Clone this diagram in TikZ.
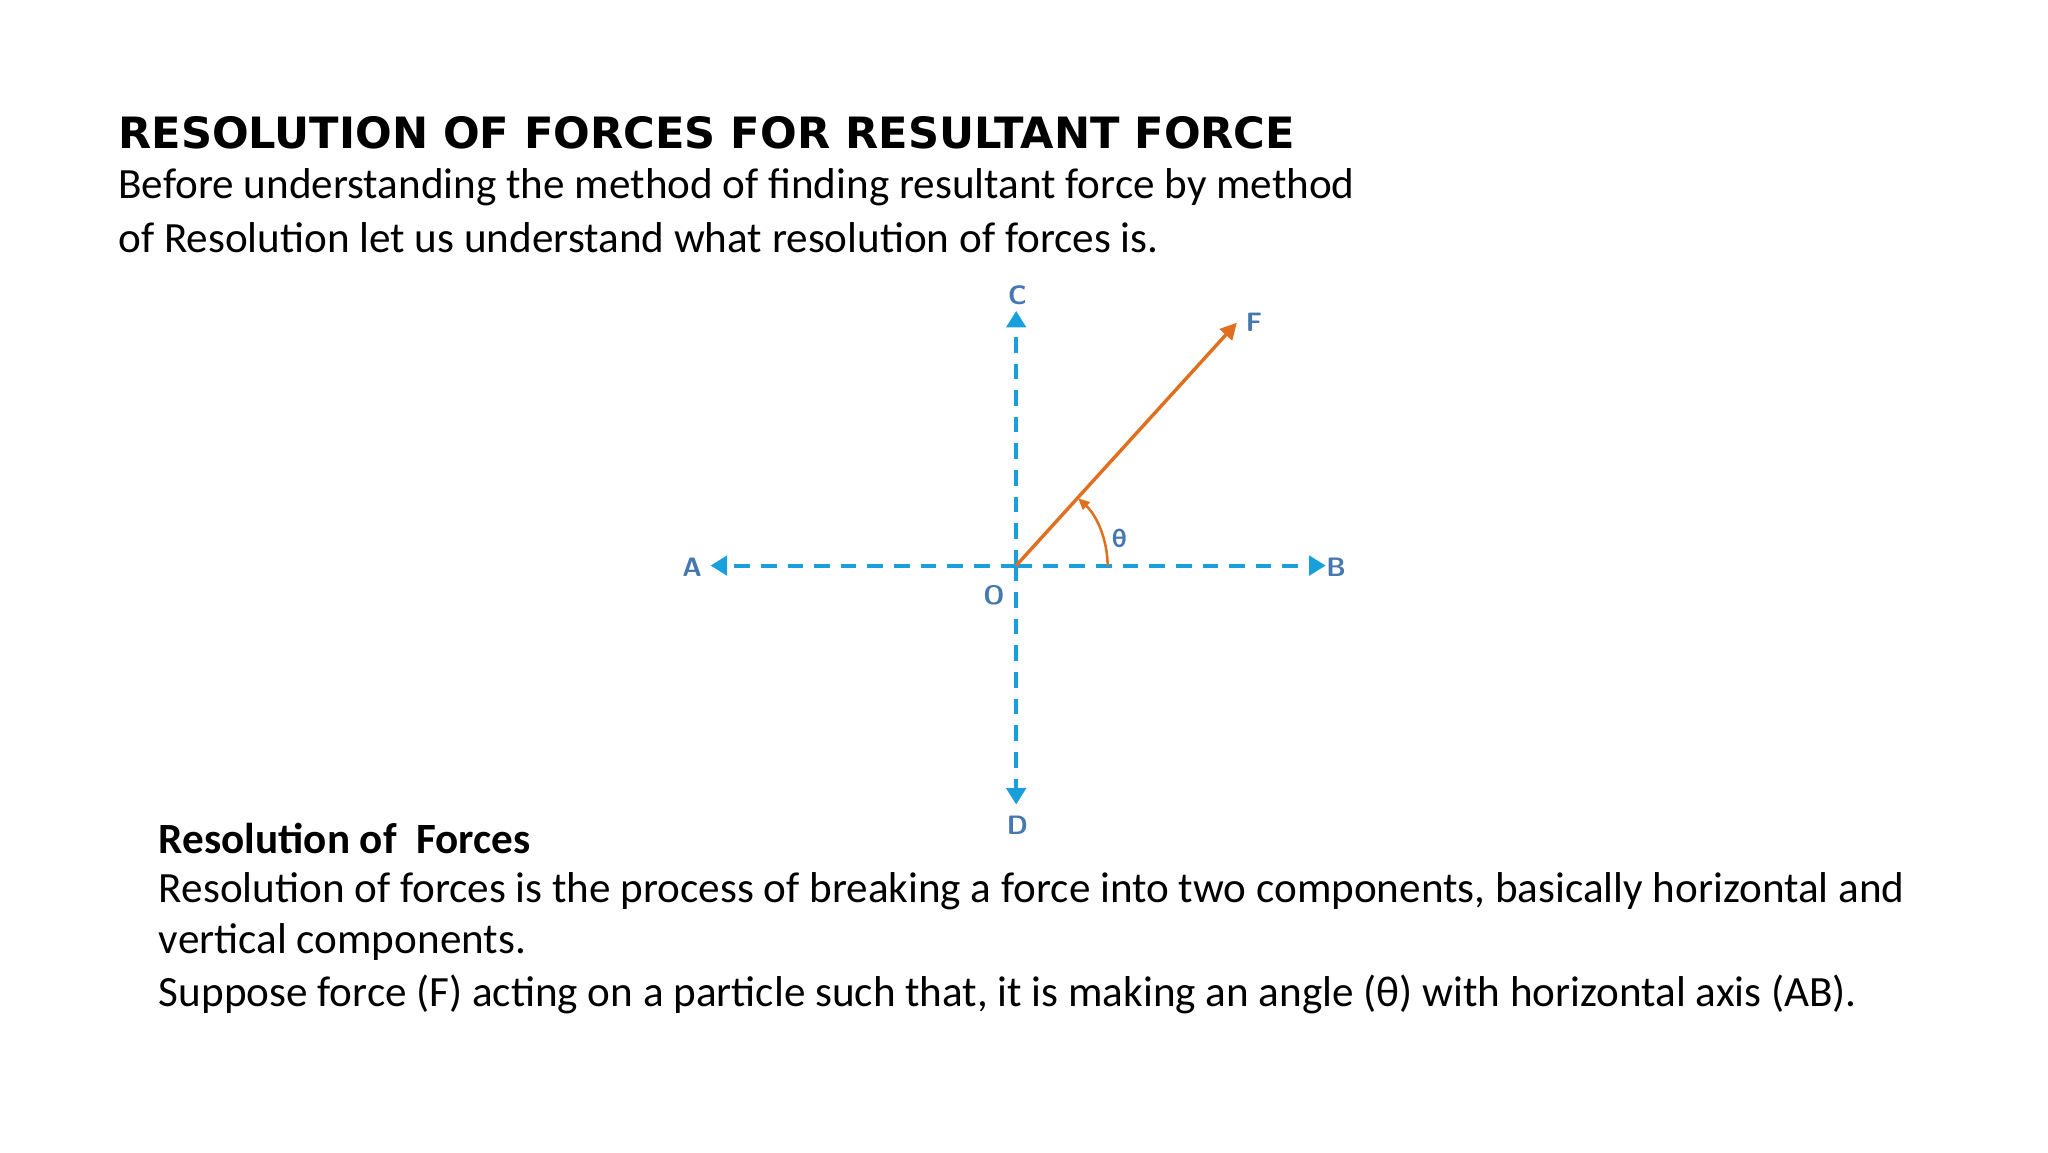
\documentclass[tikz,border=0pt]{standalone}
\usepackage{fontspec}
\setmainfont{Carlito}
\newfontfamily\titlefont{DejaVu Sans}
\usetikzlibrary{arrows.meta}
\definecolor{axis}{RGB}{25,160,220}
\definecolor{force}{RGB}{222,112,32}
\definecolor{lbl}{RGB}{70,120,175}
\tikzset{
  axisline/.style={axis,line width=0.85pt,dash pattern=on 3.4pt off 2.4pt,-{Triangle[length=3.6pt,width=4.2pt]}},
  lab/.style={text=lbl,font=\sffamily\bfseries\fontsize{5.8}{7}\selectfont},
  body/.style={anchor=west,inner sep=0pt,font=\fontsize{9.4}{11}\selectfont}
}
\begin{document}
\begin{tikzpicture}[x=1cm,y=-1cm]
\useasboundingbox (0,0) rectangle (15.68,8.82);
\node[anchor=west,inner sep=0pt,font=\titlefont\bfseries\fontsize{9.4}{11}\selectfont] (title) at (0.90,1.02) {RESOLUTION OF FORCES FOR RESULTANT FORCE};
\node[body] (l1) at (0.90,1.43) {Before understanding the method of finding resultant force by method};
\node[body] (l2) at (0.90,1.82) {of Resolution let us understand what resolution of forces is.};
\coordinate (O) at (7.78,4.33);
\coordinate (C) at (7.78,2.38);
\coordinate (D) at (7.78,6.16);
\coordinate (A) at (5.44,4.33);
\coordinate (B) at (10.15,4.33);
\coordinate (F) at (9.47,2.47);
\draw[axisline] (O) -- (C);
\draw[axisline] (O) -- (D);
\draw[axisline] (O) -- (A);
\draw[axisline] (O) -- (B);
\draw[force,line width=0.75pt,-{Triangle[length=3.6pt,width=3.6pt]}] (O) -- (F);
\draw[force,line width=0.55pt,-{Triangle[length=2.5pt,width=2.2pt]}] (8.48,4.33) arc[start angle=0,end angle=-47.4,radius=0.70];
\node[lab] (lc) at (7.79,2.26) {C};
\node[lab] (ld) at (7.79,6.32) {D};
\node[lab] (la) at (5.30,4.34) {A};
\node[lab] (lb) at (10.23,4.34) {B};
\node[lab] (lf) at (9.60,2.47) {F};
\node[lab] (lo) at (7.61,4.56) {O};
\node[lab,font=\fontsize{5.8}{7}\selectfont\bfseries] (lt) at (8.57,4.12) {θ};
\node[body,font=\bfseries\fontsize{9.4}{11}\selectfont] (h) at (1.21,6.42) {Resolution of\ \ Forces};
\node[body] (p1) at (1.21,6.82) {Resolution of forces is the process of breaking a force into two components, basically horizontal and};
\node[body] (p2) at (1.21,7.21) {vertical components.};
\node[body] (p3) at (1.21,7.61) {Suppose force (F) acting on a particle such that, it is making an angle (θ) with horizontal axis (AB).};
\end{tikzpicture}
\end{document}
